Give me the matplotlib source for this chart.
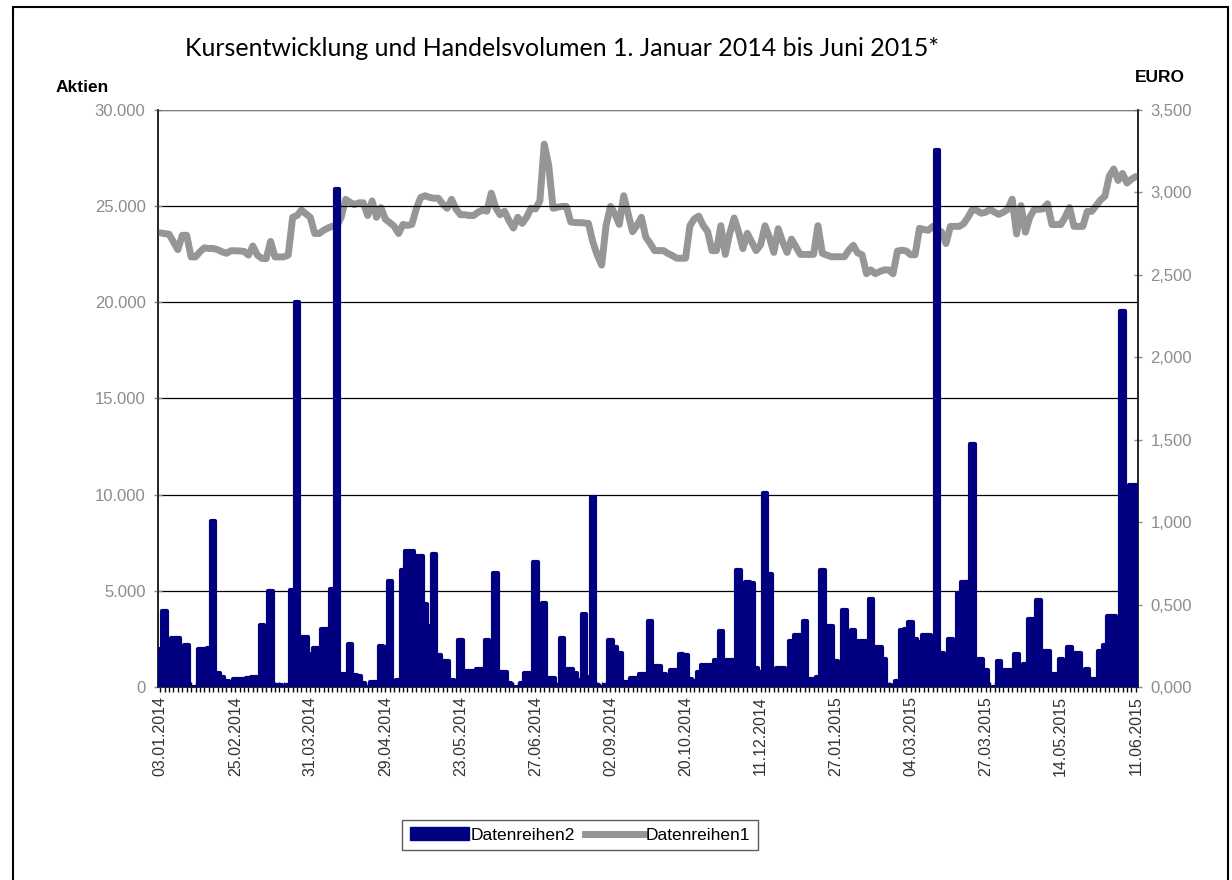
import matplotlib
matplotlib.use('Agg')
import matplotlib.pyplot as plt
from matplotlib.ticker import FuncFormatter, MultipleLocator
from matplotlib.patches import Rectangle, Patch
from matplotlib.lines import Line2D
import numpy as np

plt.rcParams['font.family'] = ['Liberation Sans', 'DejaVu Sans']

# Handelsvolumen (Aktien) per trading day
volume = [
    2000, 3950, 1100, 2570, 2570, 1000, 2200, 0, 0, 1950,
    1950, 2050, 8650, 750, 500, 330, 100, 430, 430, 430,
    450, 520, 500, 3200, 100, 5000, 100, 100, 0, 100,
    5030, 20000, 2600, 2600, 1700, 2050, 2050, 3000, 3000, 5080,
    25900, 650, 650, 2230, 600, 560, 200, 0, 280, 280,
    2140, 2100, 5500, 300, 370, 6100, 7080, 7080, 6800, 6800,
    4320, 3170, 6890, 1680, 1340, 1340, 370, 300, 2420, 840,
    840, 840, 930, 930, 2460, 1020, 5920, 780, 780, 190,
    0, 0, 220, 740, 740, 6520, 1020, 4380, 470, 470,
    100, 2570, 930, 930, 740, 370, 3820, 500, 9870, 100,
    0, 100, 2460, 2090, 1770, 280, 280, 470, 470, 650,
    650, 3450, 1100, 1100, 700, 200, 900, 900, 1700, 1650,
    400, 300, 800, 1140, 1140, 1140, 1400, 2890, 1400, 1400,
    1400, 6070, 1500, 5470, 5400, 1000, 800, 10080, 5870, 500,
    1000, 1000, 300, 2390, 2680, 2680, 3440, 400, 400, 500,
    6070, 3180, 3180, 1340, 0, 4020, 2190, 2980, 2400, 2390,
    2390, 4570, 2090, 2090, 1450, 100, 50, 300, 2980, 3000,
    3380, 2520, 2330, 2720, 2720, 200, 27930, 1790, 700, 2480,
    700, 4880, 5450, 5450, 12660, 1450, 1450, 900, 0, 0,
    1340, 900, 900, 900, 1690, 1000, 1200, 3520, 3520, 4510,
    1890, 1890, 700, 700, 1450, 700, 2090, 1790, 1790, 500,
    940, 400, 400, 1890, 2190, 3680, 3680, 3280, 19570, 3000,
    10480, 10480,
]

# Kurs (EURO)
price = [
    2.755, 2.75, 2.747, 2.70, 2.653, 2.74, 2.74, 2.609, 2.609, 2.64,
    2.664, 2.66, 2.66, 2.653, 2.64, 2.631, 2.646, 2.646, 2.645, 2.642,
    2.62, 2.675, 2.62, 2.60, 2.598, 2.703, 2.609, 2.609, 2.609, 2.62,
    2.849, 2.86, 2.893, 2.87, 2.849, 2.751, 2.751, 2.77, 2.784, 2.795,
    2.795, 2.85, 2.958, 2.94, 2.926, 2.937, 2.937, 2.86, 2.948, 2.849,
    2.908, 2.838, 2.817, 2.795, 2.751, 2.806, 2.80, 2.806, 2.90, 2.969,
    2.98, 2.97, 2.965, 2.965, 2.93, 2.904, 2.958, 2.90, 2.865, 2.865,
    2.86, 2.86, 2.88, 2.893, 2.886, 2.996, 2.908, 2.865, 2.886, 2.83,
    2.784, 2.849, 2.812, 2.85, 2.904, 2.90, 2.948, 3.293, 3.166, 2.904,
    2.91, 2.915, 2.915, 2.821, 2.817, 2.817, 2.815, 2.812, 2.70, 2.62,
    2.559, 2.80, 2.915, 2.87, 2.806, 2.98, 2.87, 2.762, 2.80, 2.849,
    2.729, 2.69, 2.647, 2.647, 2.647, 2.63, 2.617, 2.601, 2.601, 2.601,
    2.798, 2.84, 2.856, 2.80, 2.763, 2.647, 2.647, 2.798, 2.624, 2.75,
    2.845, 2.763, 2.659, 2.752, 2.70, 2.647, 2.682, 2.798, 2.729, 2.636,
    2.78, 2.70, 2.636, 2.717, 2.671, 2.624, 2.624, 2.624, 2.624, 2.798,
    2.63, 2.62, 2.61, 2.61, 2.61, 2.61, 2.65, 2.679, 2.633, 2.622,
    2.507, 2.53, 2.507, 2.52, 2.53, 2.53, 2.507, 2.644, 2.649, 2.645,
    2.622, 2.622, 2.782, 2.775, 2.77, 2.794, 2.78, 2.759, 2.69, 2.794,
    2.794, 2.794, 2.81, 2.85, 2.897, 2.89, 2.874, 2.88, 2.897, 2.88,
    2.867, 2.88, 2.897, 2.959, 2.748, 2.92, 2.759, 2.85, 2.897, 2.897,
    2.90, 2.931, 2.805, 2.805, 2.805, 2.85, 2.908, 2.794, 2.794, 2.794,
    2.885, 2.885, 2.92, 2.954, 2.977, 3.10, 3.142, 3.073, 3.115, 3.057,
    3.08, 3.096,
]

date_labels = ['03.01.2014', '25.02.2014', '31.03.2014', '29.04.2014',
               '23.05.2014', '27.06.2014', '02.09.2014', '20.10.2014',
               '11.12.2014', '27.01.2015', '04.03.2015', '27.03.2015',
               '14.05.2015', '11.06.2015']
label_step = 17

navy = '#000080'
grey = '#969696'
tick_grey = '#8c8c8c'

x = np.arange(len(volume))

fig = plt.figure(figsize=(12.32, 8.8), dpi=100)
ax1 = fig.add_axes([158 / 1232, 1 - 687 / 880, 980 / 1232, 577 / 880])
ax2 = ax1.twinx()

# price line (right scale), drawn below the bars
ax1.plot(x, price, color=grey, lw=5, solid_joinstyle='round',
         solid_capstyle='round', zorder=3)
ax1.set_ylim(0, 3.5)
ax1.yaxis.set_major_locator(MultipleLocator(0.5))
ax1.yaxis.tick_right()
ax1.yaxis.set_major_formatter(FuncFormatter(lambda v, p: f'{v:.3f}'.replace('.', ',')))

# volume bars (left scale)
ax2.bar(x, volume, width=1.0, color=navy, edgecolor=navy, linewidth=3,
        joinstyle='round', zorder=3)
ax2.set_ylim(0, 30000)
ax2.yaxis.set_major_locator(MultipleLocator(5000))
ax2.yaxis.tick_left()
ax2.yaxis.set_major_formatter(
    FuncFormatter(lambda v, p: f'{int(v):,}'.replace(',', '.')))
ax2.grid(axis='y', color='black', lw=0.9)
ax2.set_axisbelow(True)
ax1.set_xlim(-0.5, len(volume) - 0.5)

for a in (ax1, ax2):
    a.spines['top'].set_visible(False)
    a.tick_params(axis='y', colors=tick_grey, labelsize=12, length=6,
                  width=1, direction='inout', pad=6)
    for s in ('left', 'right', 'bottom'):
        a.spines[s].set_linewidth(1.2)
        a.spines[s].set_color('#222222')
ax2.axhline(30000, color='#808080', lw=1.6, zorder=2)

ax1.set_xticks(x, minor=True)
ax1.set_xticks(x[::label_step])
ax1.set_xticklabels(date_labels, rotation=90, fontsize=11.5, color='#333333')
ax1.tick_params(axis='x', which='both', direction='inout', length=7,
                width=1, color='black', pad=3)
ax2.tick_params(axis='x', which='both', bottom=False, labelbottom=False)

fig.text(0.456, 1 - 48 / 880, 'Kursentwicklung und Handelsvolumen 1. Januar 2014 bis Juni 2015*',
         ha='center', va='center', fontsize=18,
         family=['Lato', 'DejaVu Sans'])
fig.text(56 / 1232, 1 - 88 / 880, 'Aktien', ha='left', va='center',
         fontsize=12.5, fontweight='bold')
fig.text(1135 / 1232, 1 - 77 / 880, 'EURO', ha='left', va='center',
         fontsize=12.5, fontweight='bold')

handles = [Patch(facecolor=navy, edgecolor=navy),
           Line2D([0], [0], color=grey, lw=5)]
fig.legend(handles, ['Datenreihen2', 'Datenreihen1'], loc='center',
           bbox_to_anchor=(580 / 1232, 1 - 835 / 880), ncol=2, fontsize=12.5,
           frameon=True, fancybox=False, edgecolor='#333333',
           handlelength=3.4, handletextpad=0.1, columnspacing=0.6,
           borderpad=0.45)

fig.patches.append(Rectangle((13 / 1232, -0.02), 1215 / 1232, 1.02 - 7 / 880,
                             transform=fig.transFigure, fill=False,
                             edgecolor='black', lw=1.5))

fig.savefig('out.png', dpi=100)
